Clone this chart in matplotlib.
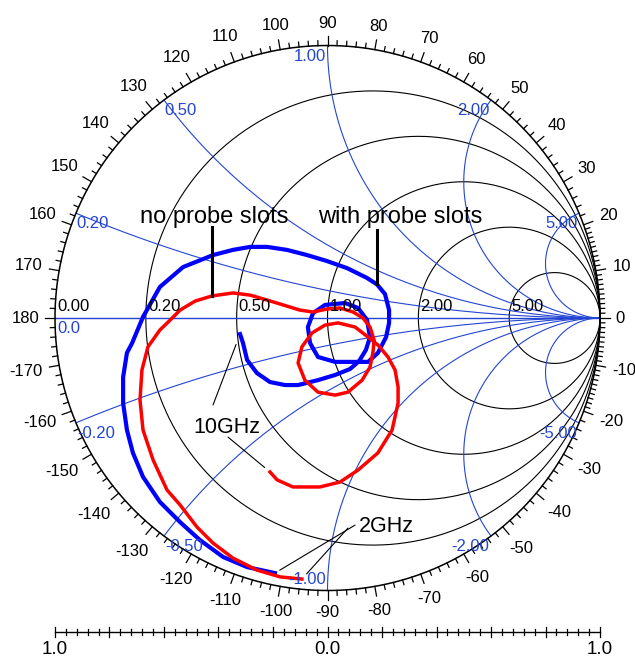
import numpy as np
import matplotlib.pyplot as plt

plt.rcParams["font.family"] = ["Liberation Sans", "DejaVu Sans"]

# measured reflection coefficient, 2 GHz -> 10 GHz
with_slots_re = [-0.193, -0.295, -0.383, -0.468, -0.541, -0.615, -0.677, -0.714, -0.736, -0.750,
                 -0.750, -0.736, -0.717, -0.677, -0.615, -0.530, -0.420, -0.347, -0.284, -0.222,
                 -0.149, -0.075, -0.002, 0.072, 0.145, 0.182, 0.211, 0.226, 0.226, 0.215,
                 0.185, 0.149, 0.090, 0.028, -0.035, -0.064, -0.072, -0.053, -0.009, 0.064,
                 0.112, 0.145, 0.156, 0.141, 0.116, 0.083, 0.028, -0.035, -0.108, -0.156,
                 -0.211, -0.259, -0.295, -0.310, -0.321]
with_slots_im = [-0.936, -0.914, -0.877, -0.815, -0.749, -0.675, -0.583, -0.495, -0.411, -0.312,
                 -0.217, -0.128, -0.092, 0.004, 0.114, 0.187, 0.231, 0.250, 0.261, 0.261,
                 0.250, 0.231, 0.209, 0.183, 0.147, 0.123, 0.088, 0.029, -0.018, -0.070,
                 -0.128, -0.161, -0.161, -0.161, -0.143, -0.092, -0.033, 0.018, 0.048, 0.055,
                 0.037, -0.007, -0.070, -0.117, -0.158, -0.187, -0.209, -0.228, -0.246, -0.246,
                 -0.235, -0.202, -0.154, -0.092, -0.059]

no_slots_re = [-0.094, -0.174, -0.259, -0.347, -0.420, -0.479, -0.541, -0.589, -0.640, -0.677,
               -0.688, -0.681, -0.659, -0.615, -0.585, -0.541, -0.486, -0.424, -0.347, -0.284,
               -0.222, -0.163, -0.101, -0.053, -0.002, 0.046, 0.094, 0.130, 0.156, 0.171,
               0.167, 0.156, 0.127, 0.075, 0.028, -0.035, -0.083, -0.108, -0.094, -0.057,
               -0.009, 0.039, 0.101, 0.149, 0.185, 0.222, 0.248, 0.259, 0.259, 0.237,
               0.185, 0.112, 0.046, -0.028, -0.127, -0.185, -0.211]
no_slots_im = [-0.958, -0.950, -0.925, -0.881, -0.826, -0.767, -0.686, -0.631, -0.521, -0.411,
               -0.301, -0.191, -0.106, -0.044, -0.015, 0.029, 0.062, 0.081, 0.092, 0.084,
               0.066, 0.048, 0.029, 0.022, 0.033, 0.037, 0.022, 0.000, -0.033, -0.081,
               -0.125, -0.180, -0.228, -0.272, -0.283, -0.272, -0.228, -0.165, -0.106, -0.055,
               -0.026, -0.018, -0.033, -0.070, -0.099, -0.143, -0.191, -0.253, -0.312, -0.411,
               -0.495, -0.558, -0.602, -0.620, -0.620, -0.594, -0.565]

r_values = [0.0, 0.2, 0.5, 1.0, 2.0, 5.0]
r_labels = ["0.00", "0.20", "0.50", "1.00", "2.00", "5.00"]
x_values = [0.2, 0.5, 1.0, 2.0, 5.0, -0.2, -0.5, -1.0, -2.0, -5.0]
x_labels = ["0.20", "0.50", "1.00", "2.00", "5.00", "-0.20", "-0.50", "-1.00", "-2.00", "-5.00"]
angle_labels = list(range(-170, 190, 10))
scale_pos = [-1.0, 0.0, 1.0]
scale_labels = ["1.0", "0.0", "1.0"]

GRID_BLUE = "#2445d2"

fig = plt.figure(figsize=(6.35, 6.6), dpi=100)
ax = fig.add_axes([0, 0, 1, 1])
ax.set_xlim(-1.2018, 1.1284)
ax.set_ylim(-1.2550, 1.1670)
ax.axis("off")


def gamma(z):
    return (z - 1) / (z + 1)


# constant resistance circles (black)
t = np.linspace(0, 2 * np.pi, 720)
for r in r_values[1:]:
    c, rad = r / (1 + r), 1 / (1 + r)
    ax.plot(c + rad * np.cos(t), rad * np.sin(t), color="black", lw=0.8)

# constant reactance arcs (blue)
rr = np.tan(np.linspace(0, np.pi / 2 - 1e-4, 3000))
for x in x_values:
    g = gamma(rr + 1j * x)
    ax.plot(g.real, g.imag, color=GRID_BLUE, lw=0.8)
ax.plot([-1, 1], [0, 0], color=GRID_BLUE, lw=1.0)

# outer circle with angle scale
ax.plot(np.cos(t), np.sin(t), color="black", lw=1.1)
for deg in range(-179, 181):
    if abs(deg) > 20 and deg % 2:
        continue
    ln = 0.036 if deg % 10 == 0 else 0.018
    th = np.radians(deg)
    ax.plot([np.cos(th), (1 + ln) * np.cos(th)], [np.sin(th), (1 + ln) * np.sin(th)],
            color="black", lw=0.9)

for deg in angle_labels:
    s = str(deg)
    th = np.radians(deg)
    half_w = 0.017 * len(s.lstrip("-")) + (0.011 if s.startswith("-") else 0)
    rad = 1.058 + abs(np.cos(th)) * half_w + abs(np.sin(th)) * 0.024
    ax.text(rad * np.cos(th), rad * np.sin(th), s, ha="center", va="center", fontsize=12)

# resistance labels along the real axis
for r, lab in zip(r_values, r_labels):
    ax.text((r - 1) / (r + 1) + 0.008, 0.014, lab, ha="left", va="bottom", fontsize=12)
ax.text(-0.99, -0.012, "0.0", ha="left", va="top", fontsize=12, color=GRID_BLUE)

# reactance labels at the rim
for x, lab in zip(x_values, x_labels):
    g = gamma(1j * x)
    ha = "left" if g.real < -0.5 else "right"
    if x == -1.0:
        ax.text(g.real - 0.004, g.imag + 0.012, lab, ha=ha, va="bottom",
                fontsize=12, color=GRID_BLUE)
    else:
        dx = 0.003 if ha == "left" else -0.006
        ax.text(g.real + dx, g.imag - 0.012, lab, ha=ha, va="top",
                fontsize=12, color=GRID_BLUE)

# measured traces
ax.plot(with_slots_re, with_slots_im, color="#0000ff", lw=3.0, solid_joinstyle="round")
ax.plot(no_slots_re, no_slots_im, color="#ff0000", lw=2.5, solid_joinstyle="round")

# annotations
ax.text(-0.417, 0.349, "no probe slots", ha="center", va="baseline", fontsize=17)
ax.text(0.266, 0.349, "with probe slots", ha="center", va="baseline", fontsize=17)
ax.plot([no_slots_re[17]] * 2, [0.334, no_slots_im[17]], color="black", lw=2.2)
ax.plot([with_slots_re[25]] * 2, [0.323, with_slots_im[25]], color="black", lw=2.2)

ax.text(-0.371, -0.422, "10GHz", ha="center", va="baseline", fontsize=15.5)
ax.text(0.2165, -0.785, "2GHz", ha="center", va="baseline", fontsize=15.5)
lead = dict(arrowstyle="-", color="black", lw=0.8, shrinkA=0)
ax.annotate("", xy=(with_slots_re[-1], with_slots_im[-1]), xytext=(-0.420, -0.319),
            arrowprops=dict(lead, shrinkB=8))
ax.annotate("", xy=(no_slots_re[-1], no_slots_im[-1]), xytext=(-0.365, -0.437),
            arrowprops=dict(lead, shrinkB=5))
ax.annotate("", xy=(with_slots_re[0], with_slots_im[0]), xytext=(0.101, -0.760),
            arrowprops=dict(lead, shrinkB=4))
ax.annotate("", xy=(no_slots_re[0], no_slots_im[0]), xytext=(0.075, -0.771),
            arrowprops=dict(lead, shrinkB=5))

# linear scale under the chart
y0 = -1.1523
ax.plot([-1, 1], [y0, y0], color="black", lw=1.0)
for k in range(-25, 26):
    h = 0.019 if k % 5 == 0 else 0.011
    ax.plot([k * 0.04] * 2, [y0 - h, y0 + h], color="black", lw=0.9)
for p, lab in zip(scale_pos, scale_labels):
    ax.text(p, -1.215, lab, ha="center", va="center", fontsize=13.5)

fig.savefig("out.png", dpi=100, facecolor="white")
